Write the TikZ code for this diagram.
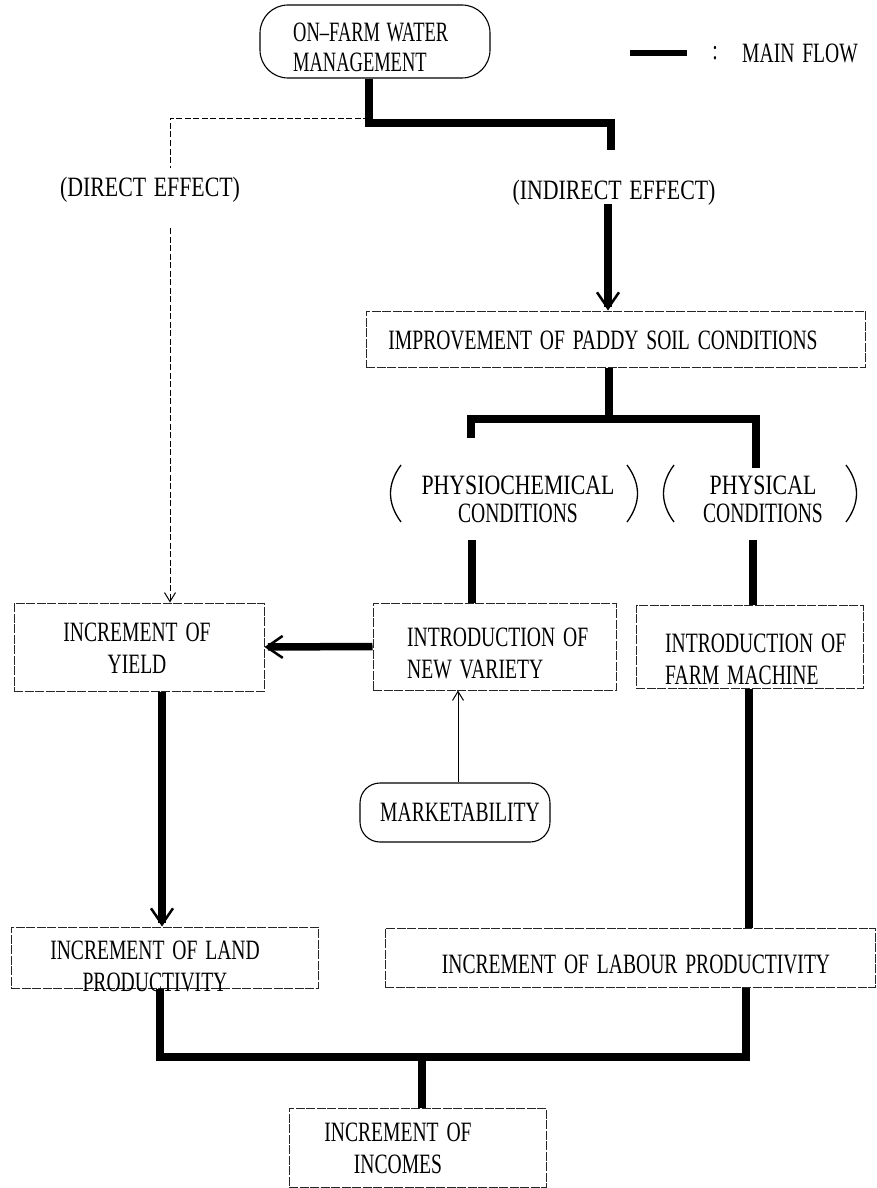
\documentclass[tikz,border=0pt]{standalone}
\usepackage{fontspec}
\newfontfamily\reffont[FakeStretch=0.70,WordSpace=1.6]{Liberation Serif}
\newfontfamily\topfont[FakeStretch=0.66,WordSpace=1.4]{Liberation Serif}
\newfontfamily\widefont[FakeStretch=0.78,WordSpace=1.4]{Liberation Serif}
\usetikzlibrary{arrows.meta}
\tikzset{
  mainflow/.style={line width=7.5pt},
  mainarrow/.style={-{Straight Barb[length=16pt,width=22pt,line width=2.5pt]}},
  thinarrow/.style={-{Straight Barb[length=9pt,width=11pt,line width=1pt]}},
  rectbox/.style={draw=black!85, line width=1pt, dash pattern=on 9pt off 1.5pt, inner sep=0pt},
  roundbox/.style={draw, line width=1.1pt, rounded corners=28pt, inner sep=0pt},
  lbl/.style={font=\reffont\fontsize{28}{32}\selectfont, inner sep=0pt},
  widelbl/.style={font=\widefont\fontsize{28}{32}\selectfont, inner sep=0pt},
  parenline/.style={line width=1.3pt},
  directline/.style={line width=0.9pt, dash pattern=on 6pt off 2.5pt},
}
\begin{document}
\begin{tikzpicture}[x=1pt,y=-1pt]
\useasboundingbox (0,0) rectangle (876,1188);
\fill[white] (0,0) rectangle (876,1188);

% boxes
\node[roundbox, minimum width=230pt, minimum height=73pt] (top) at (375,41.5) {};
\node[lbl, font=\topfont\fontsize{28}{30}\selectfont, align=left, anchor=west] (toptext) at (293,47) {ON–FARM WATER\\MANAGEMENT};

\node[rectbox, minimum width=499pt, minimum height=56pt] (impr) at (615.5,339) {};
\node[lbl] (imprtext) at (603,340) {IMPROVEMENT OF PADDY SOIL CONDITIONS};

\node[rectbox, minimum width=250pt, minimum height=88pt] (yield) at (139,647) {};
\node[lbl, align=center] (yieldtext) at (137,648) {INCREMENT OF\\YIELD};
\node[rectbox, minimum width=243pt, minimum height=87pt] (variety) at (494.5,646.5) {};
\node[lbl, align=left, anchor=west] (varietytext) at (407,653) {INTRODUCTION OF\\NEW VARIETY};
\node[rectbox, minimum width=227pt, minimum height=83pt] (machine) at (749.5,646.5) {};
\node[lbl, align=left, anchor=west] (machinetext) at (665,659) {INTRODUCTION OF\\FARM MACHINE};

\node[roundbox, rounded corners=20pt, minimum width=190pt, minimum height=59pt] (mkt) at (455,812.5) {};
\node[lbl] (mkttext) at (460,812) {MARKETABILITY};

\node[rectbox, minimum width=307pt, minimum height=61pt] (land) at (164.5,957.5) {};
\node[lbl, align=center] (landtext) at (155,966) {INCREMENT OF LAND\\PRODUCTIVITY};
\node[rectbox, minimum width=490pt, minimum height=59pt] (labour) at (630,957.5) {};
\node[lbl] (labourtext) at (636,964) {INCREMENT OF LABOUR PRODUCTIVITY};

\node[rectbox, minimum width=257pt, minimum height=79pt] (inc) at (417.5,1147.5) {};
\node[lbl, align=center] (inctext) at (398,1148) {INCREMENT OF\\INCOMES};

% legend
\coordinate (lg1) at (630,53);
\coordinate (lg2) at (687,53);
\draw[line width=6pt] (lg1) -- (lg2);
\node[lbl] (colon) at (715,53) {:};
\node[lbl] (mainflowlbl) at (800,53) {MAIN FLOW};

% effect labels
\node[widelbl] (direct) at (150,190) {(DIRECT EFFECT)};
\node[widelbl] (indirect) at (614,193) {(INDIRECT EFFECT)};

% main flow from top
\coordinate (j1) at (369,123);
\coordinate (j2) at (611,123);
\coordinate (j3) at (611,150);
\draw[mainflow] (top.south -| j1) -- (j1) -- (j2) -- (j3);
\coordinate (i1) at (608,204);
\draw[mainflow, mainarrow] (i1) -- (impr.north -| i1);

% direct effect (thin dashed)
\coordinate (d0) at (369,118);
\coordinate (d1) at (170,118);
\coordinate (d2) at (170,168);
\coordinate (d3) at (170,228);
\draw[directline] (d0) -- (d1) -- (d2);
\draw[directline, thinarrow] (d3) -- (yield.north -| d3);

% split below improvement
\coordinate (k0) at (609,419);
\coordinate (kL) at (471,419);
\coordinate (kR) at (756,419);
\coordinate (kL2) at (471,438);
\coordinate (kR2) at (756,468);
\draw[mainflow] (impr.south -| k0) -- (k0);
\draw[mainflow] (kL2) -- (kL) -- (kR) -- (kR2);

% conditions
\node[lbl, font=\reffont\fontsize{28}{28}\selectfont, align=center] (pc) at (518,499.5) {{\widefont PHYSIOCHEMICAL}\\CONDITIONS};
\node[lbl, font=\reffont\fontsize{28}{28}\selectfont, align=center] (ph) at (763,499.5) {{\widefont PHYSICAL}\\CONDITIONS};
\draw[parenline] (401,465) .. controls (387,484) and (387,503) .. (401,522);
\draw[parenline] (627,465) .. controls (641,484) and (641,503) .. (627,522);
\draw[parenline] (674,465) .. controls (660,484) and (660,503) .. (674,522);
\draw[parenline] (846,465) .. controls (860,484) and (860,503) .. (846,522);

\coordinate (v1) at (472,540);
\coordinate (m1) at (753,540);
\draw[mainflow] (v1) -- (variety.north -| v1);
\draw[mainflow] (m1) -- (machine.north -| m1);

% variety -> yield
\draw[mainflow, mainarrow] (variety.west) -- (yield.east);

% marketability -> variety
\coordinate (mx) at (458,812);
\draw[line width=1pt, thinarrow] (mkt.north -| mx) -- (variety.south -| mx);

% lower flows
\coordinate (y1) at (162,700);
\draw[mainflow, mainarrow] (yield.south -| y1) -- (land.north -| y1);
\coordinate (mc1) at (749,700);
\draw[mainflow] (machine.south -| mc1) -- (labour.north -| mc1);

\coordinate (b1) at (160,1057);
\coordinate (b2) at (746,1057);
\coordinate (b0) at (422,1057);
\draw[mainflow] (land.south -| b1) -- (b1) -- (b2) -- (labour.south -| b2);
\draw[mainflow] (b0) -- (inc.north -| b0);
\end{tikzpicture}
\end{document}
